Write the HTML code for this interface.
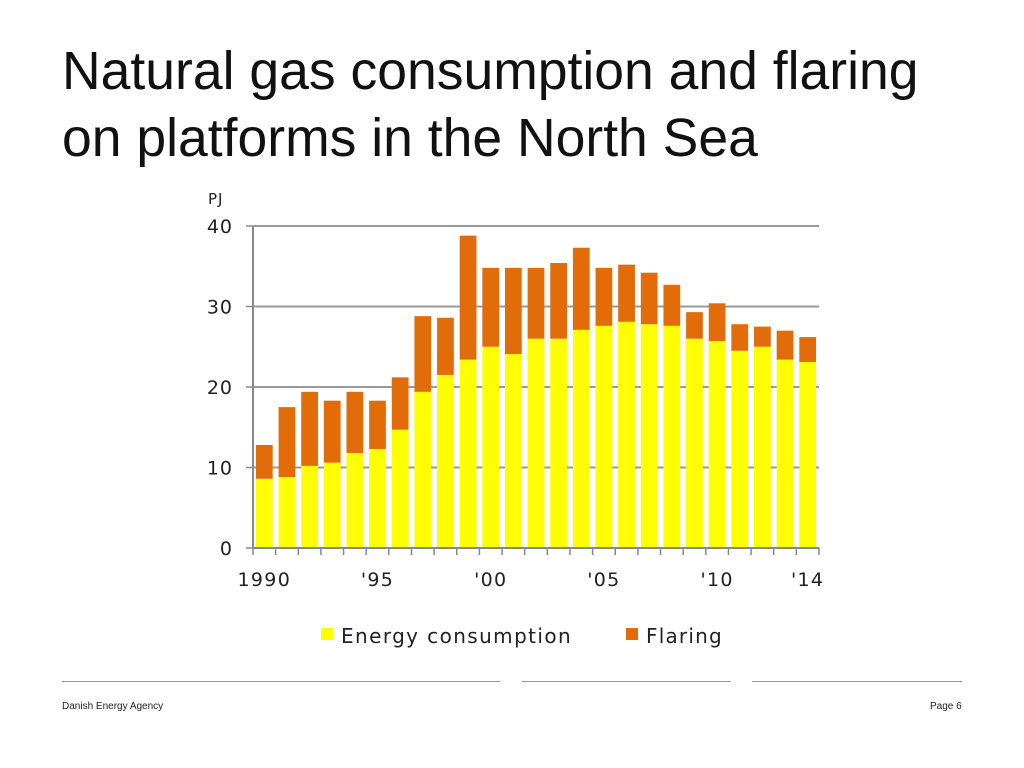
<!DOCTYPE html>
<html><head><meta charset="utf-8"><style>
body{margin:0;width:1024px;height:768px;background:#fff;font-family:"Liberation Sans",sans-serif;position:relative;overflow:hidden}
.title{position:absolute;left:62px;top:38px;font-size:53.5px;line-height:67px;color:#111}
.foot{position:absolute;font-size:10px;color:#222;top:701px}
.rule{position:absolute;top:681px;height:1px;background:#999}
</style></head><body>
<div class="title">Natural gas consumption and flaring<br>on platforms in the North Sea</div>
<svg width="1024" height="768" style="position:absolute;left:0;top:0" id="chart"></svg>
<div class="rule" style="left:62px;width:438px"></div>
<div class="rule" style="left:522px;width:209px"></div>
<div class="rule" style="left:752px;width:210px"></div>
<div class="foot" style="left:62px">Danish Energy Agency</div>
<div class="foot" style="left:930px">Page 6</div>
<script>
const years=[1990,1991,1992,1993,1994,1995,1996,1997,1998,1999,2000,2001,2002,2003,2004,2005,2006,2007,2008,2009,2010,2011,2012,2013,2014];
const consumption=[8.6,8.8,10.2,10.6,11.8,12.3,14.7,19.4,21.5,23.4,25,24.1,26,26,27.1,27.6,28.1,27.8,27.6,26,25.7,24.5,25,23.4,23.1];
const flaring=[4.2,8.7,9.2,7.7,7.6,6.0,6.5,9.4,7.1,15.4,9.8,10.7,8.8,9.4,10.2,7.2,7.1,6.4,5.1,3.3,4.7,3.3,2.5,3.6,3.1];
const yTicks=[0,10,20,30,40];
const xLabels=["1990","'95","'00","'05","'10","'14"];
const xLabelYears=[1990,1995,2000,2005,2010,2014];
const NS="http://www.w3.org/2000/svg",svg=document.getElementById('chart');
const x0=253,x1=819,y0=548,y40=226;
const step=(x1-x0)/years.length;
const y=v=>y0-(v/40)*(y0-y40);
const xc=i=>x0+step*(i+0.5);
function mk(t,a,txt){const e=document.createElementNS(NS,t);for(const k in a)e.setAttribute(k,a[k]);if(txt!==undefined)e.textContent=txt;svg.appendChild(e);return e;}
const F='DejaVu Sans, sans-serif';
yTicks.forEach(t=>{
 if(t>0){const g=mk('line',{x1:x0,x2:x1,y1:y(t),y2:y(t),stroke:'#999','stroke-width':2});
 
 }
 const l=mk('text',{x:233,y:y(t)+7,'text-anchor':'end','font-size':19,fill:'#222','font-family':F,'letter-spacing':1},t);
 
 
});
const pj=mk('text',{x:208,y:204,'font-size':15,fill:'#222','font-family':F,'letter-spacing':1},'PJ');


years.forEach((yr,i)=>{
 const w=step*0.74,bx=xc(i)-w/2;
 const c=mk('rect',{x:bx,y:y(consumption[i]),width:w,height:y0-y(consumption[i]),fill:'#ffff00'});
 
 
 const tot=consumption[i]+flaring[i];
 const f=mk('rect',{x:bx,y:y(tot),width:w,height:y(consumption[i])-y(tot),fill:'#e36c0a'});
 
 
});
const ax=mk('line',{x1:x0,x2:x1,y1:y0,y2:y0,stroke:'#888','stroke-width':2});


const ay=mk('line',{x1:x0,x2:x0,y1:y40,y2:y0,stroke:'#888','stroke-width':2});


for(let i=0;i<=years.length;i++){const tk=mk('line',{x1:x0+step*i,x2:x0+step*i,y1:y0,y2:y0+7,stroke:'#888','stroke-width':1.5});
 
 }
for(let i=0;i<5;i++){const tk=mk('line',{x1:x0-7,x2:x0,y1:y(yTicks[i]),y2:y(yTicks[i]),stroke:'#888','stroke-width':1.5});
 
 }
xLabels.forEach((lb,j)=>{const i=years.indexOf(xLabelYears[j]);
 const t=mk('text',{x:xc(i),y:586,'text-anchor':'middle','font-size':19,fill:'#222','font-family':F,'letter-spacing':1.3},lb);
 
 });
const l1=mk('rect',{x:321,y:628,width:12,height:12,fill:'#ffff00'});


const t1=mk('text',{x:341,y:643,'font-size':20,fill:'#222','font-family':F,'letter-spacing':1.4},'Energy consumption');


const l2=mk('rect',{x:626,y:628,width:12,height:12,fill:'#e36c0a'});


const t2=mk('text',{x:646,y:643,'font-size':20,fill:'#222','font-family':F,'letter-spacing':1.2},'Flaring');


</script>
</body></html>
